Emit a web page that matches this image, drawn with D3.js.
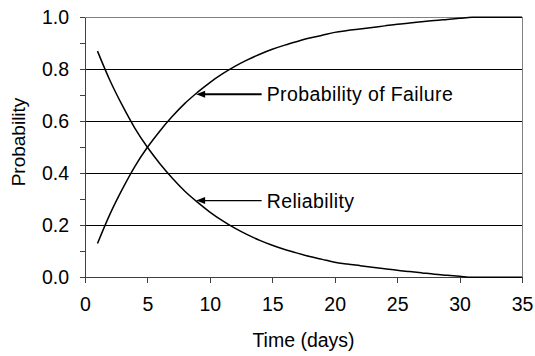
<!DOCTYPE html>
<html>
<head>
<meta charset="utf-8">
<script src="https://cdn.jsdelivr.net/npm/d3@7"></script>
<style>
  html, body { margin: 0; padding: 0; background: #fff; }
  svg { display: block; font-family: "Liberation Sans", Arial, sans-serif; }
</style>
</head>
<body>
<svg id="chart" width="535" height="356"></svg>
<script>
// Time in days
const days = [1,2,3,4,5,6,7,8,9,10,11,12,13,14,15,16,17,18,19,20,21,22,23,24,25,26,27,28,29,30,31,32,33,34,35];
// Reliability R(t)
const reliability = [0.870,0.757,0.660,0.573,0.500,0.437,0.381,0.331,0.289,0.251,0.218,0.189,0.164,0.142,0.123,0.107,0.093,0.080,0.069,0.058,0.051,0.045,0.039,0.033,0.027,0.022,0.017,0.012,0.008,0.004,0.000,0.000,0.000,0.000,0.000];
// Probability of failure F(t)
const failure = [0.130,0.243,0.340,0.427,0.500,0.563,0.619,0.669,0.711,0.749,0.782,0.811,0.836,0.858,0.877,0.893,0.907,0.920,0.931,0.942,0.949,0.955,0.961,0.967,0.973,0.978,0.983,0.988,0.992,0.996,1.000,1.000,1.000,1.000,1.000];

const xTicks = [0,5,10,15,20,25,30,35];
const yTicks = [0,0.2,0.4,0.6,0.8,1.0];
const yMinorTicks = [0.1,0.3,0.5,0.7,0.9];

// Callout labels: text, arrow tip (time, value), label start time
const labelTexts = ["Probability of Failure", "Reliability"];
const labelTipTime = [8.9, 8.9];
const labelTipValue = [0.704, 0.295];
const labelStartTime = [14.55, 14.55];

const svg = d3.select("#chart");
const plotLeft = 85, plotRight = 522, plotTop = 17.3, plotBottom = 277.3;

const x = d3.scaleLinear().domain([0, 35]).range([plotLeft, plotRight]);
const y = d3.scaleLinear().domain([0, 1]).range([plotBottom, plotTop]);

// Horizontal gridlines
svg.append("g")
  .selectAll("line")
  .data(yTicks.filter(v => v > 0 && v < 1))
  .join("line")
  .attr("x1", plotLeft).attr("x2", plotRight)
  .attr("y1", d => y(d)).attr("y2", d => y(d))
  .attr("stroke", "#000").attr("stroke-width", 1)
  .attr("shape-rendering", "crispEdges");

// Plot frame: top and right edges
svg.append("path")
  .attr("d", `M${plotLeft},${y(1)}H${plotRight}V${plotBottom}`)
  .attr("fill", "none").attr("stroke", "#808080").attr("stroke-width", 1)
  .attr("shape-rendering", "crispEdges");

// Y axis (minor ticks, then major ticks with labels)
svg.append("g")
  .attr("transform", `translate(${plotLeft},0)`)
  .call(d3.axisLeft(y).tickValues(yMinorTicks).tickSize(5).tickFormat(""))
  .call(g => g.select(".domain").remove())
  .call(g => g.selectAll("line").attr("stroke", "#404040").attr("shape-rendering", "crispEdges"));

svg.append("g")
  .attr("transform", `translate(${plotLeft},0)`)
  .call(d3.axisLeft(y).tickValues(yTicks).tickSize(5).tickSizeOuter(0).tickPadding(11).tickFormat(d3.format(".1f")))
  .call(g => g.select(".domain").attr("stroke", "#404040").attr("shape-rendering", "crispEdges"))
  .call(g => g.selectAll("line").attr("stroke", "#404040").attr("shape-rendering", "crispEdges"))
  .call(g => g.selectAll("text").attr("font-size", "19.5px").attr("fill", "#000")
    .attr("font-family", "'Liberation Sans', Arial, sans-serif"));

// X axis
svg.append("g")
  .attr("transform", `translate(0,${plotBottom})`)
  .call(d3.axisBottom(x).tickValues(xTicks).tickSize(6).tickSizeOuter(0).tickPadding(14).tickFormat(d3.format("d")))
  .call(g => g.select(".domain").attr("stroke", "#404040").attr("shape-rendering", "crispEdges"))
  .call(g => g.selectAll("line").attr("stroke", "#404040").attr("shape-rendering", "crispEdges"))
  .call(g => g.selectAll("text").attr("font-size", "19.5px").attr("fill", "#000")
    .attr("font-family", "'Liberation Sans', Arial, sans-serif"));

// Axis titles
svg.append("text")
  .attr("x", (plotLeft + plotRight) / 2).attr("y", 347)
  .attr("text-anchor", "middle").attr("font-size", "19.5px")
  .text("Time (days)");

svg.append("text")
  .attr("transform", `translate(25,142) rotate(-90)`)
  .attr("text-anchor", "middle").attr("font-size", "19px")
  .text("Probability");

// Curves
const line = d3.line().curve(d3.curveMonotoneX);
[reliability, failure].forEach(series => {
  svg.append("path")
    .attr("d", line(days.map((d, i) => [x(d), y(series[i])])))
    .attr("fill", "none").attr("stroke", "#000").attr("stroke-width", 1.5);
});

// Callouts with arrows
labelTexts.forEach((t, i) => {
  const tipX = x(labelTipTime[i]), tipY = y(labelTipValue[i]);
  const startX = x(labelStartTime[i]);
  const g = svg.append("g");
  g.append("line")
    .attr("x1", startX - 5).attr("x2", tipX + 6)
    .attr("y1", tipY).attr("y2", tipY)
    .attr("stroke", "#000").attr("stroke-width", i === 0 ? 2 : 1.3);
  g.append("path")
    .attr("d", `M${tipX},${tipY}L${tipX + 9},${tipY - 3.5}L${tipX + 9},${tipY + 3.5}Z`)
    .attr("fill", "#000");
  g.append("text")
    .attr("x", startX).attr("y", tipY + 7)
    .attr("font-size", "19.5px").attr("letter-spacing", "0.4px")
    .text(t);
});
</script>
</body>
</html>
